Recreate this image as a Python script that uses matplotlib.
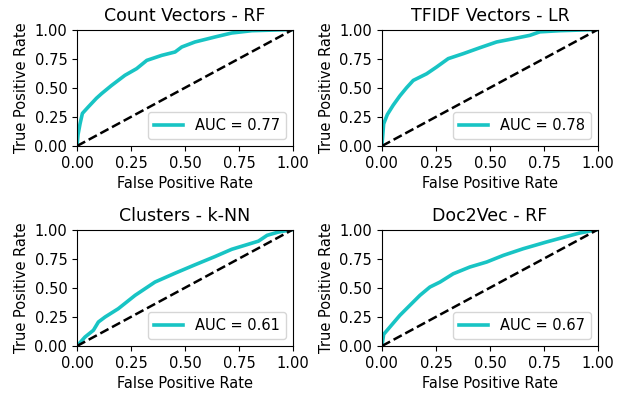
import matplotlib
matplotlib.use('Agg')
import matplotlib.pyplot as plt

# ROC curves
titles = ['Count Vectors - RF', 'TFIDF Vectors - LR', 'Clusters - k-NN', 'Doc2Vec - RF']
aucs = [0.77, 0.78, 0.61, 0.67]

fpr_cv = [0.0, 0.005, 0.014, 0.025, 0.052, 0.09, 0.114, 0.16, 0.222, 0.276, 0.323,
          0.392, 0.454, 0.485, 0.546, 0.639, 0.716, 0.81, 1.0]
tpr_cv = [0.0, 0.10, 0.19, 0.28, 0.335, 0.41, 0.45, 0.52, 0.607, 0.664, 0.735,
          0.778, 0.807, 0.85, 0.893, 0.936, 0.97, 0.99, 1.0]

fpr_tfidf = [0.0, 0.008, 0.025, 0.052, 0.083, 0.114, 0.145, 0.207, 0.253, 0.307,
             0.377, 0.454, 0.531, 0.608, 0.685, 0.731, 0.824, 1.0]
tpr_tfidf = [0.0, 0.19, 0.27, 0.35, 0.43, 0.50, 0.563, 0.62, 0.678, 0.75,
             0.793, 0.844, 0.893, 0.921, 0.95, 0.98, 0.99, 1.0]

fpr_clu = [0.0, 0.037, 0.076, 0.099, 0.13, 0.191, 0.269, 0.361, 0.454, 0.546,
           0.639, 0.716, 0.84, 0.88, 0.932, 1.0]
tpr_clu = [0.0, 0.077, 0.135, 0.206, 0.249, 0.32, 0.435, 0.549, 0.625, 0.697,
           0.768, 0.83, 0.9, 0.95, 0.978, 1.0]

fpr_d2v = [0.0, 0.008, 0.037, 0.083, 0.13, 0.176, 0.222, 0.269, 0.33, 0.407,
           0.485, 0.562, 0.654, 0.762, 0.855, 0.916, 1.0]
tpr_d2v = [0.0, 0.10, 0.163, 0.263, 0.35, 0.435, 0.506, 0.549, 0.62, 0.678,
           0.721, 0.778, 0.835, 0.893, 0.94, 0.97, 1.0]

fprs = [fpr_cv, fpr_tfidf, fpr_clu, fpr_d2v]
tprs = [tpr_cv, tpr_tfidf, tpr_clu, tpr_d2v]
ticks = [0.0, 0.25, 0.5, 0.75, 1.0]

fig = plt.figure(figsize=(6.18, 3.93), dpi=100)
positions = [[0.1246, 0.6285, 0.3495, 0.2964],
             [0.618, 0.6285, 0.3495, 0.2964],
             [0.1246, 0.1196, 0.3495, 0.2964],
             [0.618, 0.1196, 0.3495, 0.2964]]

for i in range(4):
    ax = fig.add_axes(positions[i])
    ax.plot(fprs[i], tprs[i], color='#18c4c4', lw=2.6, label='AUC = %0.2f' % aucs[i])
    ax.plot([0, 1], [0, 1], 'k--', lw=1.8)
    ax.set_xlim(0, 1)
    ax.set_ylim(0, 1)
    ax.set_xticks(ticks)
    ax.set_yticks(ticks)
    ax.tick_params(labelsize=10.5)
    ax.set_title(titles[i], fontsize=12.5)
    ax.set_xlabel('False Positive Rate', fontsize=10.5)
    ax.set_ylabel('True Positive Rate', fontsize=10.5)
    ax.legend(loc='lower right', fontsize=10.5)

plt.savefig('out.png', dpi=100)
